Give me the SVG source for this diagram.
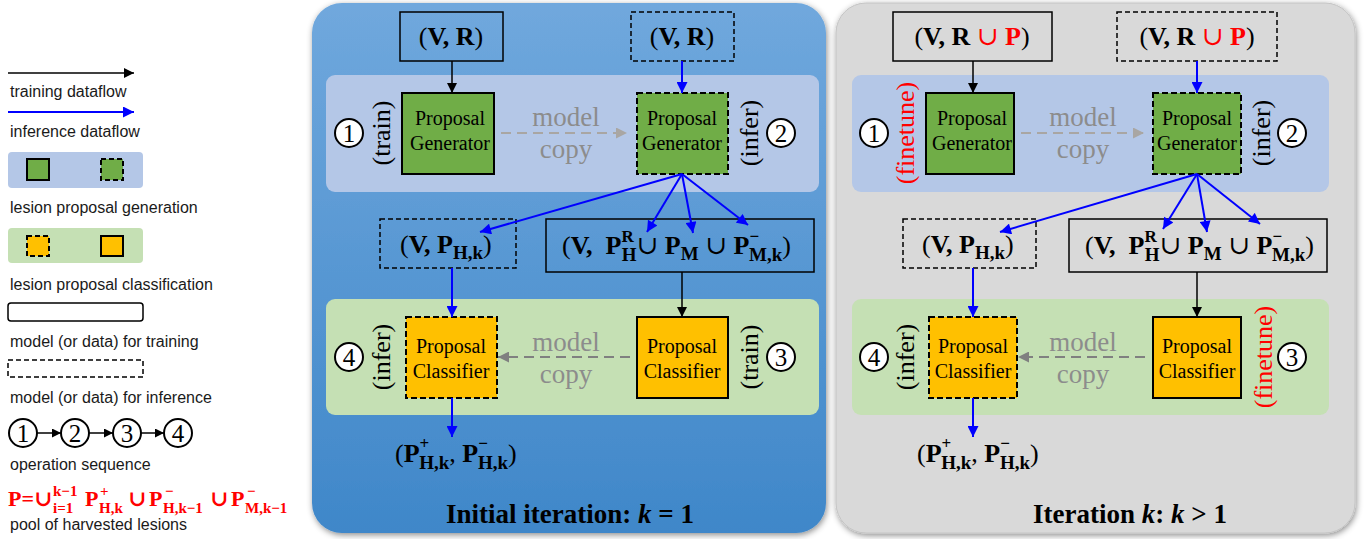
<svg xmlns="http://www.w3.org/2000/svg" width="1369" height="539" viewBox="0 0 1369 539">
<style>
.lg{font-family:"Liberation Sans",Arial,sans-serif;font-size:16px;fill:#1a1a1a}
.m{font-family:"Liberation Serif","DejaVu Serif",serif;font-size:26px;fill:#000}
.b{font-weight:bold}
.s{font-size:19px;font-weight:bold}
.ss{font-size:17px;font-weight:bold}
.pt{font-family:"Liberation Serif","Times New Roman",serif;font-size:20px;fill:#000;text-anchor:middle}
.mc{font-family:"Liberation Serif","Times New Roman",serif;font-size:27px;fill:#8c8c8c;text-anchor:middle}
.rot{font-family:"Liberation Serif","Times New Roman",serif;font-size:26px;fill:#000;text-anchor:middle}
.red{fill:#ff0000}
.num{font-family:"Liberation Serif","Times New Roman",serif;font-size:25px;fill:#000;text-anchor:middle}
.cir{fill:#fff;stroke:#000;stroke-width:2}
.box{fill:none;stroke:#000;stroke-width:1.5}
.dash{fill:none;stroke:#000;stroke-width:1.5;stroke-dasharray:5 3}
.gen{fill:#70AD47;stroke:#000;stroke-width:2}
.gend{fill:#70AD47;stroke:#000;stroke-width:2;stroke-dasharray:6 3}
.cls{fill:#FFC000;stroke:#000;stroke-width:2}
.clsd{fill:#FFC000;stroke:#000;stroke-width:2;stroke-dasharray:6 3}
.blk{stroke:#000;stroke-width:1.5;fill:none;marker-end:url(#ab)}
.blu{stroke:#0000ff;stroke-width:2;fill:none;marker-end:url(#au)}
.gry{stroke:#a9a6a3;stroke-width:2;fill:none;stroke-dasharray:10 6;marker-end:url(#ag)}
.gry2{stroke:#808080;stroke-width:2;fill:none;stroke-dasharray:10 6;marker-end:url(#ag2)}
.ttl{font-family:"Liberation Serif","Times New Roman",serif;font-size:27px;font-weight:bold;fill:#000;text-anchor:middle}
</style>
<defs>
<linearGradient id="gb" x1="0" y1="0" x2="0" y2="1">
<stop offset="0" stop-color="#70A8DD"/>
<stop offset="1" stop-color="#3F87C9"/>
</linearGradient>
<filter id="sh" x="-5%" y="-5%" width="110%" height="110%">
<feDropShadow dx="1" dy="2" stdDeviation="3" flood-color="#000" flood-opacity="0.45"/>
</filter>
<marker id="ab" viewBox="0 0 10 10" refX="10" refY="5" markerWidth="11" markerHeight="10" markerUnits="userSpaceOnUse" orient="auto"><path d="M0,0L10,5L0,10z" fill="#000"/></marker>
<marker id="au" viewBox="0 0 10 10" refX="10" refY="5" markerWidth="12" markerHeight="11" markerUnits="userSpaceOnUse" orient="auto"><path d="M0,0L10,5L0,10z" fill="#0000ff"/></marker>
<marker id="ag" viewBox="0 0 10 10" refX="10" refY="5" markerWidth="11" markerHeight="11" markerUnits="userSpaceOnUse" orient="auto"><path d="M0,0L10,5L0,10z" fill="#a9a6a3"/></marker>
<marker id="ag2" viewBox="0 0 10 10" refX="10" refY="5" markerWidth="11" markerHeight="11" markerUnits="userSpaceOnUse" orient="auto"><path d="M0,0L10,5L0,10z" fill="#808080"/></marker>
<marker id="as" viewBox="0 0 10 10" refX="10" refY="5" markerWidth="10" markerHeight="9" markerUnits="userSpaceOnUse" orient="auto"><path d="M0,0L10,5L0,10z" fill="#000"/></marker>
</defs>

<!-- Legend -->
<g id="legend">
<line x1="8" y1="73" x2="134" y2="73" stroke="#000" stroke-width="1.5" marker-end="url(#ab)"/>
<text class="lg" x="10" y="97">training dataflow</text>
<line x1="8" y1="112" x2="134" y2="112" stroke="#0000ff" stroke-width="2" marker-end="url(#au)"/>
<text class="lg" x="10" y="137">inference dataflow</text>
<rect x="8" y="152" width="135" height="36" rx="4" fill="#B4C7E7"/>
<rect x="27" y="159" width="22" height="21" class="gen"/>
<rect x="101" y="159" width="22" height="21" class="gend" style="stroke-dasharray:5 3"/>
<text class="lg" x="10" y="213">lesion proposal generation</text>
<rect x="8" y="228" width="135" height="35" rx="4" fill="#C5E0B4"/>
<rect x="27" y="236" width="22" height="20" class="clsd" style="stroke-dasharray:5 3"/>
<rect x="101" y="236" width="22" height="20" class="cls"/>
<text class="lg" x="10" y="290">lesion proposal classification</text>
<rect x="8" y="303" width="135" height="18" rx="3" fill="#fff" stroke="#000" stroke-width="1.5"/>
<text class="lg" x="10" y="347">model (or data) for training</text>
<rect x="8" y="360" width="135" height="17" class="dash"/>
<text class="lg" x="10" y="403">model (or data) for inference</text>
<circle cx="23" cy="433" r="14" class="cir"/><text class="num" x="23" y="442">1</text>
<circle cx="75" cy="433" r="14" class="cir"/><text class="num" x="75" y="442">2</text>
<circle cx="127" cy="433" r="14" class="cir"/><text class="num" x="127" y="442">3</text>
<circle cx="178" cy="433" r="14" class="cir"/><text class="num" x="178" y="442">4</text>
<line x1="37" y1="433" x2="61" y2="433" stroke="#000" stroke-width="1.5" marker-end="url(#as)"/>
<line x1="89" y1="433" x2="113" y2="433" stroke="#000" stroke-width="1.5" marker-end="url(#as)"/>
<line x1="141" y1="433" x2="164" y2="433" stroke="#000" stroke-width="1.5" marker-end="url(#as)"/>
<text class="lg" x="10" y="470">operation sequence</text>
<g class="m red" style="font-weight:bold;font-size:22px">
<text x="8" y="506">P=∪</text>
<text x="53" y="496" style="font-size:15px">k−1</text>
<text x="53" y="513" style="font-size:15px">i=1</text>
<text x="85" y="506">P</text>
<text x="100" y="496" style="font-size:15px">+</text>
<text x="99" y="513" style="font-size:15px">H,k</text>
<text x="128" y="506">∪</text>
<text x="149" y="506">P</text>
<text x="165" y="496" style="font-size:15px">−</text>
<text x="163" y="513" style="font-size:15px">H,k−1</text>
<text x="210" y="506">∪</text>
<text x="231" y="506">P</text>
<text x="247" y="496" style="font-size:15px">−</text>
<text x="245" y="513" style="font-size:15px">M,k−1</text>
</g>
<text class="lg" x="10" y="530">pool of harvested lesions</text>
</g>

<!-- Panels -->
<g id="panel-initial">
<rect x="312" y="3" width="514" height="530" rx="30" fill="url(#gb)" filter="url(#sh)"/>
<rect x="326" y="75" width="493" height="117" rx="9" fill="#B4C7E7"/>
<rect x="326" y="299" width="493" height="116" rx="9" fill="#C5E0B4"/>
<text class="ttl" x="570" y="523">Initial iteration: <tspan font-style="italic">k</tspan> = 1</text>
</g>
<g id="panel-iter">
<rect x="836" y="3" width="519" height="530" rx="30" fill="#D9D9D9" stroke="#c4c4c4" stroke-width="1" filter="url(#sh)"/>
<rect x="852" y="75" width="477" height="117" rx="9" fill="#B4C7E7"/>
<rect x="852" y="299" width="477" height="116" rx="9" fill="#C5E0B4"/>
<text class="ttl" x="1130" y="523">Iteration <tspan font-style="italic">k</tspan>: <tspan font-style="italic">k</tspan> &gt; 1</text>
</g>

<!-- Left panel nodes -->
<g id="L-data-train">
<rect x="400" y="12" width="103" height="49" class="box"/>
<text class="m" x="451" y="45" text-anchor="middle">(<tspan class="b">V, R</tspan>)</text>
</g>
<g id="L-data-infer">
<rect x="631" y="12" width="103" height="49" class="dash"/>
<text class="m" x="682" y="45" text-anchor="middle">(<tspan class="b">V, R</tspan>)</text>
</g>
<g id="L-gen-train">
<rect x="402" y="93" width="92" height="81" class="gen"/>
<text class="pt" x="450" y="125">Proposal</text>
<text class="pt" x="450" y="150">Generator</text>
<circle cx="349" cy="133" r="14" class="cir"/><text class="num" x="349" y="142">1</text>
<text class="rot" transform="translate(390,133) rotate(-90)">(train)</text>
</g>
<g id="L-gen-infer">
<rect x="637" y="93" width="91" height="81" class="gend"/>
<text class="pt" x="682" y="125">Proposal</text>
<text class="pt" x="682" y="150">Generator</text>
<text class="rot" transform="translate(758,133) rotate(-90)">(infer)</text>
<circle cx="781" cy="133" r="14" class="cir"/><text class="num" x="781" y="142">2</text>
</g>
<g id="L-copy1">
<text class="mc" x="566" y="126">model</text>
<text class="mc" x="566" y="158">copy</text>
</g>
<g id="L-phk">
<rect x="380" y="219" width="136" height="49" class="dash"/>
<text class="m" x="400" y="253">(<tspan class="b">V, P</tspan><tspan class="s" dy="6">H,k</tspan><tspan dy="-6">)</tspan></text>
</g>
<g id="L-train-data">
<rect x="546" y="219" width="268" height="53" class="box"/>
<text class="m" x="562" y="254">(<tspan class="b">V,</tspan><tspan class="b" dx="13">P</tspan><tspan class="ss" dy="-12">R</tspan><tspan class="s" dx="-12" dy="19">H</tspan><tspan dy="-7">∪ </tspan><tspan class="b">P</tspan><tspan class="s" dy="6">M</tspan><tspan dy="-6"> ∪ </tspan><tspan class="b">P</tspan><tspan class="ss" dy="-12">−</tspan><tspan class="s" dx="-10" dy="19">M,k</tspan><tspan dy="-7">)</tspan></text>
</g>
<g id="L-cls-infer">
<rect x="406" y="317" width="91" height="81" class="clsd"/>
<text class="pt" x="451" y="353">Proposal</text>
<text class="pt" x="451" y="378">Classifier</text>
<circle cx="349" cy="357" r="14" class="cir"/><text class="num" x="349" y="366">4</text>
<text class="rot" transform="translate(390,357) rotate(-90)">(infer)</text>
</g>
<g id="L-cls-train">
<rect x="637" y="317" width="91" height="81" class="cls"/>
<text class="pt" x="682" y="353">Proposal</text>
<text class="pt" x="682" y="378">Classifier</text>
<text class="rot" transform="translate(758,357) rotate(-90)">(train)</text>
<circle cx="781" cy="357" r="14" class="cir"/><text class="num" x="781" y="366">3</text>
</g>
<g id="L-copy2">
<text class="mc" x="566" y="351">model</text>
<text class="mc" x="566" y="383">copy</text>
</g>
<g id="L-out">
<text class="m" x="395" y="462">(<tspan class="b">P</tspan><tspan class="ss" dy="-13">+</tspan><tspan class="s" dx="-10" dy="20">H,k</tspan><tspan dy="-7">, </tspan><tspan class="b">P</tspan><tspan class="ss" dy="-13">−</tspan><tspan class="s" dx="-10" dy="20">H,k</tspan><tspan dy="-7">)</tspan></text>
</g>

<!-- Right panel nodes -->
<g id="R-data-train">
<rect x="893" y="12" width="159" height="49" class="box"/>
<text class="m" x="972" y="45" text-anchor="middle">(<tspan class="b">V, R </tspan><tspan class="red">∪ </tspan><tspan class="b red">P</tspan>)</text>
</g>
<g id="R-data-infer">
<rect x="1117" y="12" width="160" height="49" class="dash"/>
<text class="m" x="1197" y="45" text-anchor="middle">(<tspan class="b">V, R </tspan><tspan class="red">∪ </tspan><tspan class="b red">P</tspan>)</text>
</g>
<g id="R-gen-train">
<rect x="926" y="93" width="88" height="81" class="gen"/>
<text class="pt" x="972" y="125">Proposal</text>
<text class="pt" x="972" y="150">Generator</text>
<circle cx="874" cy="133" r="14" class="cir"/><text class="num" x="874" y="142">1</text>
<text class="rot red" transform="translate(914,133) rotate(-90)">(finetune)</text>
</g>
<g id="R-gen-infer">
<rect x="1153" y="93" width="88" height="81" class="gend"/>
<text class="pt" x="1197" y="125">Proposal</text>
<text class="pt" x="1197" y="150">Generator</text>
<text class="rot" transform="translate(1270,133) rotate(-90)">(infer)</text>
<circle cx="1292" cy="133" r="14" class="cir"/><text class="num" x="1292" y="142">2</text>
</g>
<g id="R-copy1">
<text class="mc" x="1083" y="126">model</text>
<text class="mc" x="1083" y="158">copy</text>
</g>
<g id="R-phk">
<rect x="903" y="219" width="133" height="49" class="dash"/>
<text class="m" x="922" y="253">(<tspan class="b">V, P</tspan><tspan class="s" dy="6">H,k</tspan><tspan dy="-6">)</tspan></text>
</g>
<g id="R-train-data">
<rect x="1069" y="219" width="258" height="53" class="box"/>
<text class="m" x="1085" y="254">(<tspan class="b">V,</tspan><tspan class="b" dx="13">P</tspan><tspan class="ss" dy="-12">R</tspan><tspan class="s" dx="-12" dy="19">H</tspan><tspan dy="-7">∪ </tspan><tspan class="b">P</tspan><tspan class="s" dy="6">M</tspan><tspan dy="-6"> ∪ </tspan><tspan class="b">P</tspan><tspan class="ss" dy="-12">−</tspan><tspan class="s" dx="-10" dy="19">M,k</tspan><tspan dy="-7">)</tspan></text>
</g>
<g id="R-cls-infer">
<rect x="929" y="317" width="88" height="81" class="clsd"/>
<text class="pt" x="973" y="353">Proposal</text>
<text class="pt" x="973" y="378">Classifier</text>
<circle cx="874" cy="357" r="14" class="cir"/><text class="num" x="874" y="366">4</text>
<text class="rot" transform="translate(914,357) rotate(-90)">(infer)</text>
</g>
<g id="R-cls-train">
<rect x="1153" y="317" width="88" height="81" class="cls"/>
<text class="pt" x="1197" y="353">Proposal</text>
<text class="pt" x="1197" y="378">Classifier</text>
<text class="rot red" transform="translate(1272,357) rotate(-90)">(finetune)</text>
<circle cx="1292" cy="357" r="14" class="cir"/><text class="num" x="1292" y="366">3</text>
</g>
<g id="R-copy2">
<text class="mc" x="1083" y="351">model</text>
<text class="mc" x="1083" y="383">copy</text>
</g>
<g id="R-out">
<text class="m" x="917" y="462">(<tspan class="b">P</tspan><tspan class="ss" dy="-13">+</tspan><tspan class="s" dx="-10" dy="20">H,k</tspan><tspan dy="-7">, </tspan><tspan class="b">P</tspan><tspan class="ss" dy="-13">−</tspan><tspan class="s" dx="-10" dy="20">H,k</tspan><tspan dy="-7">)</tspan></text>
</g>

<!-- Connectors -->
<g id="connectors">
<line x1="452" y1="61" x2="452" y2="93" class="blk"/>
<line x1="682" y1="61" x2="682" y2="93" class="blu"/>
<line x1="501" y1="133" x2="627" y2="133" class="gry"/>
<line x1="682" y1="174" x2="480" y2="232" class="blu"/>
<line x1="682" y1="174" x2="647" y2="232" class="blu"/>
<line x1="682" y1="174" x2="693" y2="233" class="blu"/>
<line x1="682" y1="174" x2="748" y2="225" class="blu"/>
<line x1="452" y1="268" x2="452" y2="317" class="blu"/>
<line x1="682" y1="272" x2="682" y2="317" class="blk"/>
<line x1="630" y1="357" x2="498" y2="357" class="gry2"/>
<line x1="452" y1="398" x2="452" y2="437" class="blu"/>

<line x1="973" y1="61" x2="973" y2="93" class="blk"/>
<line x1="1197" y1="61" x2="1197" y2="93" class="blu"/>
<line x1="1021" y1="133" x2="1144" y2="133" class="gry"/>
<line x1="1197" y1="174" x2="1000" y2="232" class="blu"/>
<line x1="1197" y1="174" x2="1163" y2="229" class="blu"/>
<line x1="1197" y1="174" x2="1207" y2="232" class="blu"/>
<line x1="1197" y1="174" x2="1260" y2="224" class="blu"/>
<line x1="973" y1="268" x2="973" y2="317" class="blu"/>
<line x1="1197" y1="272" x2="1197" y2="317" class="blk"/>
<line x1="1145" y1="357" x2="1018" y2="357" class="gry2"/>
<line x1="973" y1="398" x2="973" y2="437" class="blu"/>
</g>
</svg>
